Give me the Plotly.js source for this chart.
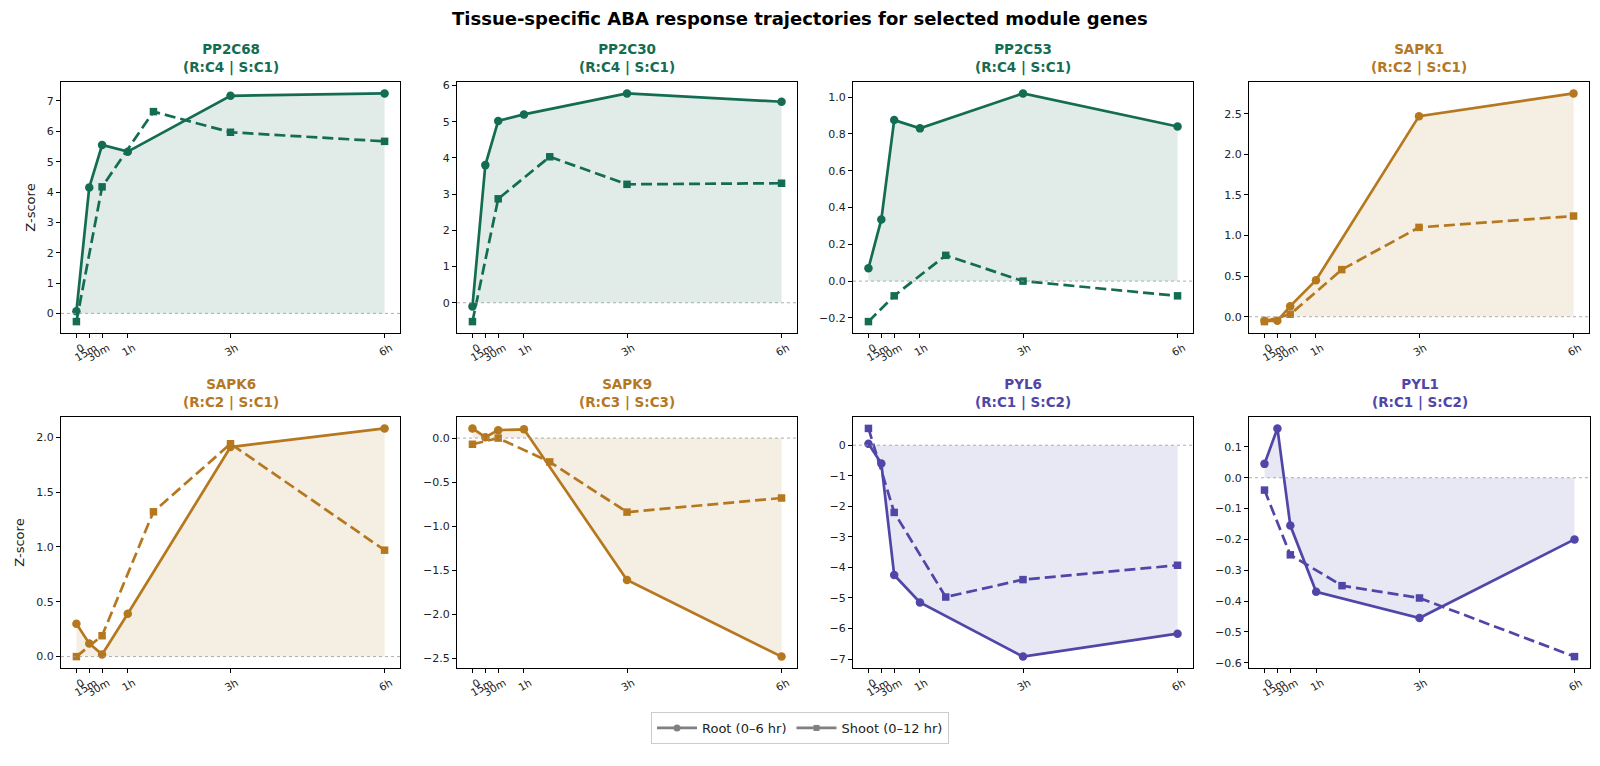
<!DOCTYPE html>
<html><head><meta charset="utf-8">
<script src="https://cdn.plot.ly/plotly-3.0.1.min.js"></script>
<style>html,body{margin:0;padding:0;background:#fff}#chart{width:1600px;height:766px}</style>
</head><body><div id="chart"></div>
<script>
// ---- data ----
const rootTimes = [0, 0.25, 0.5, 1, 3, 6];          // root 0,15m,30m,1h,3h,6h
const shootTimes = [0, 0.5, 1.5, 3, 6];             // shoot 0-12 hr, rescaled to 0-6
const tickVals = [0, 0.25, 0.5, 1, 3, 6];
const tickLabels = ["0", "15m", "30m", "1h", "3h", "6h"];

const genes = ["PP2C68", "PP2C30", "PP2C53", "SAPK1", "SAPK6", "SAPK9", "PYL6", "PYL1"];
const clusters = ["(R:C4 | S:C1)", "(R:C4 | S:C1)", "(R:C4 | S:C1)", "(R:C2 | S:C1)",
                  "(R:C2 | S:C1)", "(R:C3 | S:C3)", "(R:C1 | S:C2)", "(R:C1 | S:C2)"];
const groups = ["green", "green", "green", "brown", "brown", "brown", "purple", "purple"];

const rootPP2C68 = [0.07, 4.15, 5.55, 5.33, 7.17, 7.25];
const shootPP2C68 = [-0.27, 4.17, 6.65, 5.97, 5.67];
const rootPP2C30 = [-0.1, 3.8, 5.02, 5.2, 5.78, 5.55];
const shootPP2C30 = [-0.52, 2.87, 4.03, 3.27, 3.3];
const rootPP2C53 = [0.07, 0.335, 0.875, 0.83, 1.02, 0.84];
const shootPP2C53 = [-0.22, -0.08, 0.14, 0.0, -0.08];
const rootSAPK1 = [-0.05, -0.05, 0.13, 0.45, 2.47, 2.75];
const shootSAPK1 = [-0.06, 0.03, 0.58, 1.1, 1.24];
const rootSAPK6 = [0.3, 0.12, 0.02, 0.39, 1.91, 2.08];
const shootSAPK6 = [0.0, 0.19, 1.32, 1.94, 0.97];
const rootSAPK9 = [0.11, 0.01, 0.09, 0.1, -1.61, -2.48];
const shootSAPK9 = [-0.07, 0.0, -0.27, -0.84, -0.68];
const rootPYL6 = [0.05, -0.6, -4.25, -5.15, -6.92, -6.17];
const shootPYL6 = [0.55, -2.2, -4.97, -4.4, -3.93];
const rootPYL1 = [0.045, 0.16, -0.155, -0.37, -0.455, -0.2];
const shootPYL1 = [-0.04, -0.25, -0.35, -0.39, -0.58];

const rootSeries = [rootPP2C68, rootPP2C30, rootPP2C53, rootSAPK1, rootSAPK6, rootSAPK9, rootPYL6, rootPYL1];
const shootSeries = [shootPP2C68, shootPP2C30, shootPP2C53, shootSAPK1, shootSAPK6, shootSAPK9, shootPYL6, shootPYL1];

// ---- styling ----
const palette = {
  green: {line: "#146c53", fill: "rgba(20,108,83,0.13)"},
  brown: {line: "#b5781f", fill: "rgba(181,120,31,0.13)"},
  purple: {line: "#5046a8", fill: "rgba(80,70,168,0.13)"}
};
const dticks = [1, 1, 0.2, 0.5, 0.5, 0.5, 1, 0.1];
const fmts = ["d", "d", ".1f", ".1f", ".1f", ".1f", "d", ".1f"];
const xDomainsPx = [[61, 400], [457, 797], [853, 1193], [1249, 1589],
                    [61, 400], [457, 797], [853, 1193], [1249, 1590]];
const yDomainsPx = [[82, 333], [417, 668]];
const W = 1600, H = 766;
const FONT = "DejaVu Sans, Liberation Sans, sans-serif";
const LW = 2.7, MS = 8.5;

const traces = [];
const layout = {
  width: W, height: H,
  margin: {l: 0, r: 0, t: 0, b: 0},
  paper_bgcolor: "#fff", plot_bgcolor: "#fff",
  font: {family: FONT, size: 11, color: "#222"},
  showlegend: true,
  legend: {orientation: "h", x: 0.5, xanchor: "center", y: 1 - 728 / H, yanchor: "middle",
           bordercolor: "#cccccc", borderwidth: 1, font: {size: 13, color: "#222"},
           itemwidth: 40, tracegroupgap: 0},
  annotations: [{
    text: "<b>Tissue-specific ABA response trajectories for selected module genes</b>",
    xref: "paper", yref: "paper", x: 0.5, y: 1 - 18 / H, xanchor: "center", yanchor: "middle",
    showarrow: false, font: {size: 18, color: "#000", family: FONT}
  }],
  shapes: []
};

for (let i = 0; i < 8; i++) {
  const n = i + 1;
  const xa = n === 1 ? "x" : "x" + n;
  const ya = n === 1 ? "y" : "y" + n;
  const col = palette[groups[i]];
  const r = rootSeries[i], s = shootSeries[i];
  const all = r.concat(s, [0]);
  const mn = Math.min(...all), mx = Math.max(...all), pad = (mx - mn) * 0.05;
  const row = i < 4 ? 0 : 1;
  const xd = xDomainsPx[i], yd = yDomainsPx[row];

  traces.push({x: rootTimes, y: r, xaxis: xa, yaxis: ya, type: "scatter", mode: "lines",
               line: {width: 0, color: "rgba(0,0,0,0)"}, fill: "tozeroy", fillcolor: col.fill,
               showlegend: false, hoverinfo: "skip"});
  traces.push({x: rootTimes, y: r, xaxis: xa, yaxis: ya, type: "scatter", mode: "lines+markers",
               line: {width: LW, color: col.line}, marker: {symbol: "circle", size: MS, color: col.line},
               showlegend: false});
  traces.push({x: shootTimes, y: s, xaxis: xa, yaxis: ya, type: "scatter", mode: "lines+markers",
               line: {width: LW, color: col.line, dash: "11px,5px"},
               marker: {symbol: "square", size: MS - 1, color: col.line}, showlegend: false});

  layout["xaxis" + (n === 1 ? "" : n)] = {
    domain: [xd[0] / W, xd[1] / W], anchor: ya, range: [-0.3, 6.3],
    tickmode: "array", tickvals: tickVals, ticktext: tickLabels, tickangle: -30,
    ticklabelshift: 6, ticklabelstandoff: 0,
    ticks: "outside", ticklen: 4, tickwidth: 1, tickcolor: "#000",
    showline: true, linecolor: "#000", linewidth: 1, mirror: true,
    showgrid: false, zeroline: false, tickfont: {size: 10.5, color: "#222"}
  };
  layout["yaxis" + (n === 1 ? "" : n)] = {
    domain: [1 - yd[1] / H, 1 - yd[0] / H], anchor: xa, range: [mn - pad, mx + pad],
    tick0: 0, dtick: dticks[i], tickformat: fmts[i],
    ticks: "outside", ticklen: 4, tickwidth: 1, tickcolor: "#000",
    showline: true, linecolor: "#000", linewidth: 1, mirror: true,
    showgrid: false, zeroline: false, tickfont: {size: 11, color: "#222"},
    title: (i % 4 === 0) ? {text: "Z-score", font: {size: 13, color: "#222"}, standoff: 8} : {text: ""}
  };
  layout.shapes.push({type: "line", xref: xa + " domain", x0: 0, x1: 1, yref: ya, y0: 0, y1: 0,
                      line: {color: "#999", width: 0.8, dash: "dot"}, layer: "above"});
  layout.annotations.push({
    text: "<b>" + genes[i] + "</b><br><b>" + clusters[i] + "</b>",
    xref: "paper", yref: "paper", x: ((xd[0] + xd[1]) / 2) / W, y: 1 - yd[0] / H,
    xanchor: "center", yanchor: "bottom", yshift: 4, showarrow: false,
    font: {size: 13.5, color: col.line, family: FONT}
  });
}

// legend proxies
traces.push({x: [null], y: [null], type: "scatter", mode: "lines+markers", name: "Root (0–6 hr)",
             line: {color: "#808080", width: LW}, marker: {symbol: "circle", size: MS - 1.5, color: "#808080"}});
traces.push({x: [null], y: [null], type: "scatter", mode: "lines+markers", name: "Shoot (0–12 hr)",
             line: {color: "#808080", width: LW}, marker: {symbol: "square", size: MS - 2.5, color: "#808080"}});

Plotly.newPlot("chart", traces, layout, {displayModeBar: false, staticPlot: true});
</script>
</body></html>
